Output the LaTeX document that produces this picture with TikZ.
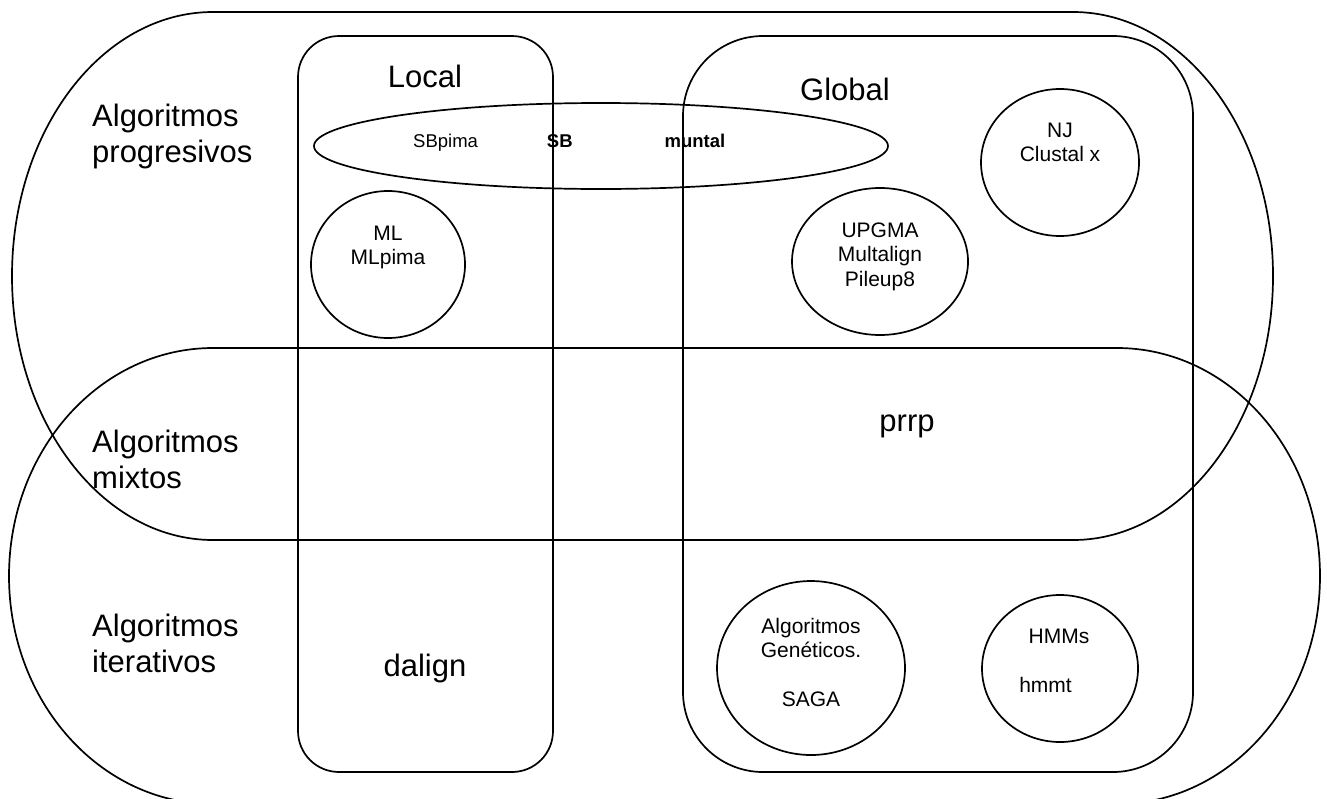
\documentclass[tikz,border=0pt]{standalone}
\usepackage{fontspec}
\setmainfont{Liberation Sans}
% a column of centred or flush lines whose baseline is the first line's
\newcommand{\linestack}[2]{\begin{tabular}[t]{@{}#1@{}}#2\end{tabular}}
\begin{document}
\begin{tikzpicture}[x=1pt, y=1pt,
  outline/.style={draw=black, line width=1.7pt},
  big/.style={font=\fontsize{31}{36}\selectfont, inner sep=0pt},
  small/.style={font=\fontsize{21}{24.5}\selectfont, inner sep=0pt},
  tiny/.style={font=\fontsize{18.5}{21}\selectfont, inner sep=0pt}]

\fill[white] (0,0) rectangle (1327,-798);
\useasboundingbox (0,0) rectangle (1327,-798);
\clip (0,0) rectangle (1327,-798);

% progressive algorithms: stadium with elliptic ends
\draw[outline] (213,-12) -- (1073,-12)
  arc[start angle=90, end angle=-90, x radius=200, y radius=264]
  -- (213,-540)
  arc[start angle=270, end angle=90, x radius=201, y radius=264] -- cycle;

% iterative algorithms: second stadium, its lower edge below the page
\draw[outline] (213,-348) -- (1117,-348)
  arc[start angle=90, end angle=-90, x radius=203, y radius=228]
  -- (213,-804)
  arc[start angle=270, end angle=90, x radius=204, y radius=228] -- cycle;

% local and global columns
\draw[outline, rounded corners=41pt] (298,-36) rectangle (553,-772);
\draw[outline, rounded corners=80pt] (683,-36) rectangle (1193,-772);

% ovals of individual methods
\draw[outline] (601,-146) ellipse [x radius=287, y radius=43];
\draw[outline] (388,-264.5) ellipse [x radius=77, y radius=73.5];
\draw[outline] (880,-261.5) ellipse [x radius=88, y radius=73.5];
\draw[outline] (1060,-162.5) ellipse [x radius=79, y radius=73.5];
\draw[outline] (811,-668) ellipse [x radius=94, y radius=87];
\draw[outline] (1060,-668.5) ellipse [x radius=78, y radius=73.5];

% category labels
\node[big, anchor=base west] (prog) at (92,-126) {\linestack{l}{Algoritmos\\progresivos}};
\node[big, anchor=base west] (mix) at (92,-452) {\linestack{l}{Algoritmos\\mixtos}};
\node[big, anchor=base west] (iter) at (92,-636) {\linestack{l}{Algoritmos\\iterativos}};
\node[big, anchor=base] (local) at (425,-87) {Local};
\node[big, anchor=base] (global) at (845,-100) {Global};
\node[big, anchor=base] (prrp) at (907,-431) {prrp};
\node[big, anchor=base] (dalign) at (425,-676) {dalign};

% method labels
\node[tiny, anchor=base west] (sb) at (413,-147)
  {SBpima\hspace{69pt}\textbf{SB}\hspace{92pt}\textbf{muntal}};
\node[small, anchor=base] (ml) at (388,-240) {\linestack{c}{ML\\MLpima}};
\node[small, anchor=base] (upgma) at (880,-237) {\linestack{c}{UPGMA\\Multalign\\Pileup8}};
\node[small, anchor=base] (nj) at (1060,-137) {\linestack{c}{NJ\\Clustal x}};
\node[small, anchor=base] (ag) at (811,-633) {\linestack{c}{Algoritmos\\Genéticos.\\ \\SAGA}};
\node[small, anchor=base] (hmm) at (1059,-643) {\linestack{c}{HMMs\\ \\hmmt\kern27pt}};
\end{tikzpicture}
\end{document}
